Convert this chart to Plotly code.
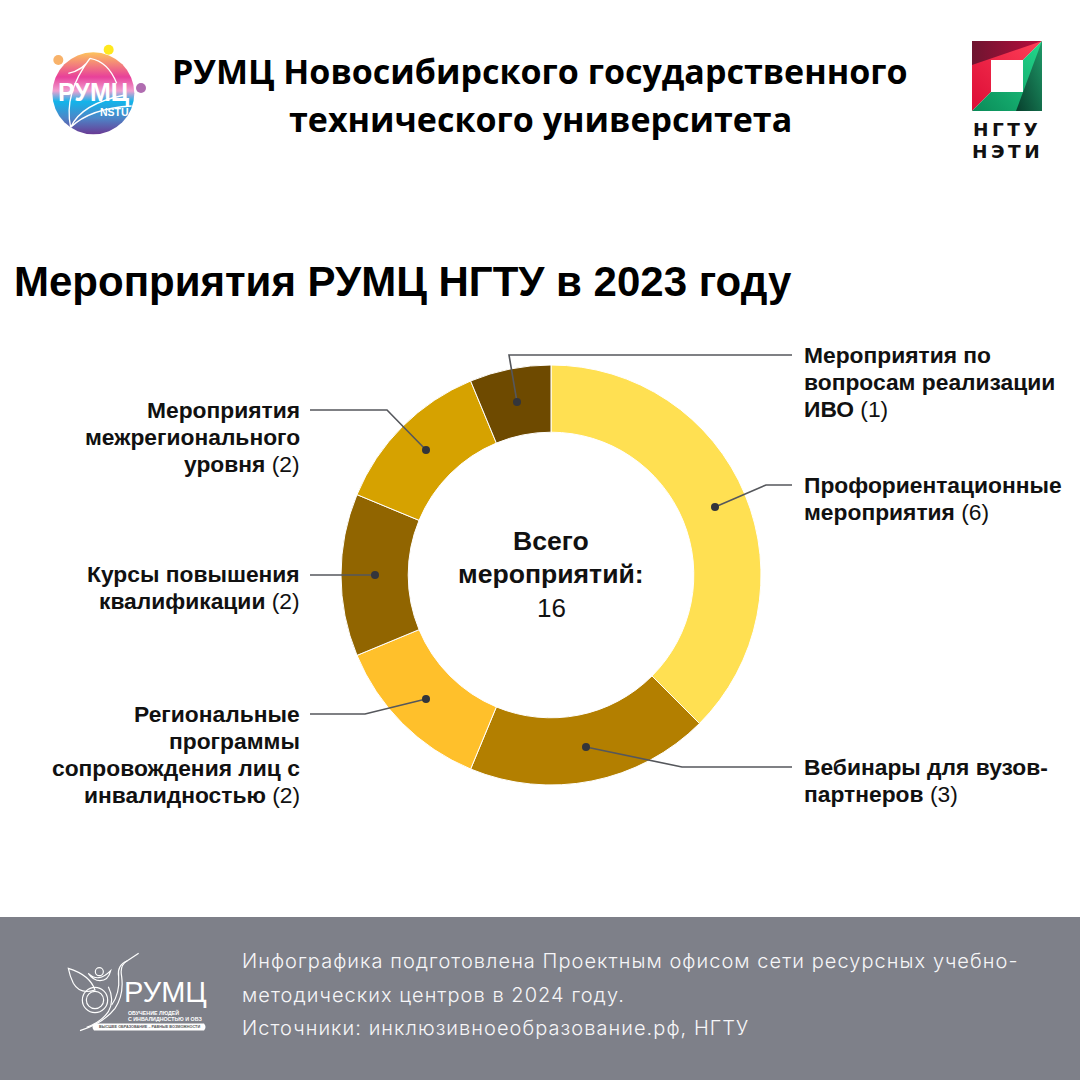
import base64
import plotly.graph_objects as go

categories = ["Профориентационные мероприятия", "Вебинары для вузов-партнеров",
              "Региональные программы сопровождения лиц с инвалидностью",
              "Курсы повышения квалификации", "Мероприятия межрегионального уровня",
              "Мероприятия по вопросам реализации ИВО"]
values = [6, 3, 2, 2, 2, 1]
colors = ["#FFE052", "#B37F00", "#FFC02B", "#916500", "#D6A200", "#6E4A00"]

W = 1080
def px(x): return x / W
def py(y): return 1 - y / W

def svg_uri(s):
    return "data:image/svg+xml;base64," + base64.b64encode(s.encode()).decode()

rumc_logo = '''<svg xmlns="http://www.w3.org/2000/svg" width="300" height="150" viewBox="0 0 900 450">
<defs><linearGradient id="g" x1="0" y1="0" x2="0" y2="1">
<stop offset="0" stop-color="#FDC35C"/><stop offset=".3" stop-color="#E8409A"/>
<stop offset=".47" stop-color="#F0A0D0"/><stop offset=".6" stop-color="#12B4EA"/>
<stop offset=".8" stop-color="#4C86C8"/><stop offset="1" stop-color="#6A3A94"/></linearGradient></defs>
<circle cx="280" cy="220" r="123" fill="url(#g)"/>
<circle cx="175" cy="120" r="15" fill="#F8B26A"/><circle cx="326" cy="89" r="15" fill="#FFE81E"/>
<circle cx="423" cy="204" r="15" fill="#B06CB0"/>
<path d="M212 322 Q190 220 270 115 Q250 150 205 160 M270 115 Q325 125 350 190 M212 322 Q245 250 375 225 M212 322 Q270 265 395 258" fill="none" stroke="#fff" stroke-width="4"/>
</svg>'''

ngtu_logo = '''<svg xmlns="http://www.w3.org/2000/svg" width="70" height="70" viewBox="0 0 70 70">
<defs><linearGradient id="a" x1="0" y1="1" x2="1" y2="0"><stop offset="0" stop-color="#DC0C36"/><stop offset="1" stop-color="#FF4058"/></linearGradient>
<linearGradient id="b" x1="0" y1="0" x2="1" y2="0"><stop offset="0" stop-color="#6E1530"/><stop offset="1" stop-color="#B80C3C"/></linearGradient>
<linearGradient id="c" x1="0" y1="1" x2="1" y2="0"><stop offset="0" stop-color="#0A8A58"/><stop offset="1" stop-color="#23D98C"/></linearGradient>
<linearGradient id="d" x1="0" y1="1" x2="1" y2="0"><stop offset="0" stop-color="#073F2D"/><stop offset="1" stop-color="#1F9A68"/></linearGradient></defs>
<polygon points="0,0 70,0 0,70" fill="url(#a)"/><polygon points="0,0 70,0 0,24" fill="url(#b)"/>
<polygon points="70,0 70,70 0,70" fill="url(#c)"/><polygon points="70,0 70,70 44,70" fill="url(#d)"/>
<rect x="19" y="19" width="32" height="32" fill="#fff"/></svg>'''

fund_logo = '''<svg xmlns="http://www.w3.org/2000/svg" width="200" height="110" viewBox="0 0 600 330">
<g fill="none" stroke="#fff" stroke-width="3.5">
<path d="M85 85 Q150 105 165 150 Q120 165 100 130 Q90 110 85 85Z"/>
<path d="M296 40 L262 62 Q238 75 245 110 Q252 165 225 205 Q190 250 120 272"/>
<path d="M262 62 Q230 75 236 110 Q240 160 215 195"/>
<path d="M205 140 Q225 180 205 215 Q185 245 140 262"/>
<circle cx="165" cy="180" r="38"/><circle cx="165" cy="180" r="26"/>
<circle cx="178" cy="95" r="12"/><path d="M145 100 Q175 130 212 92 Q205 122 180 122 Q160 122 145 100Z"/>
</g></svg>'''

fig = go.Figure(go.Pie(
    labels=categories, values=values, sort=False, direction="clockwise", rotation=0,
    hole=0.68, textinfo="none", showlegend=False,
    marker=dict(colors=colors, line=dict(color="#ffffff", width=1)),
    domain=dict(x=[px(341), px(761)], y=[py(785), py(365)]),
))

shapes = []
annots = []

def text(x, y, s, size, font, color="#000000", weight=None, anchor="left", align=None):
    dx = {"left": -2, "right": 2, "center": 0}[anchor]
    annots.append(dict(x=px(x + dx), y=py(y), xref="paper", yref="paper", text=s, showarrow=False,
                       xanchor=anchor, yanchor="middle", align=align or anchor,
                       font=dict(family=font, size=size, color=color, weight=weight)))

H = "Liberation Sans"
# header
text(540, 71, "РУМЦ Новосибирского государственного", 34, "Open Sans", weight=700, anchor="center")
text(540, 119, "технического университета", 34, "Open Sans", weight=700, anchor="center")
text(14, 281, "Мероприятия РУМЦ НГТУ в 2023 году", 42, H, weight=700)

# logos
images = [
    dict(source=svg_uri(rumc_logo), x=0, y=py(20), sizex=px(300), sizey=px(150), xref="paper", yref="paper",
         xanchor="left", yanchor="top", layer="above", sizing="stretch"),
    dict(source=svg_uri(ngtu_logo), x=px(972), y=py(41), sizex=px(70), sizey=px(70), xref="paper", yref="paper",
         xanchor="left", yanchor="top", layer="above", sizing="stretch"),
    dict(source=svg_uri(fund_logo), x=px(40), y=py(940), sizex=px(200), sizey=px(110), xref="paper", yref="paper",
         xanchor="left", yanchor="top", layer="above", sizing="stretch"),
]
text(94, 92, "РУМЦ", 25, H, "#ffffff", 700, "center")
text(114, 112, "NSTU", 10.5, H, "#ffffff", 700, "center")
text(1007, 129.5, "НГТУ", 18.5, "DejaVu Sans", "#111111", 700, "center")
text(1007, 151, "НЭТИ", 18.5, "DejaVu Sans", "#111111", 700, "center")

# centre
text(551, 541, "Всего", 26.6, H, "#111111", 700, "center")
text(551, 574, "мероприятий:", 26.6, H, "#111111", 700, "center")
text(551, 608, "16", 26, H, "#111111", 400, "center")

# labels, one line at a time
label_rows_right = [
    (355, "<b>Мероприятия по</b>"), (382, "<b>вопросам реализации</b>"), (409, "<b>ИВО</b> (1)"),
    (485, "<b>Профориентационные</b>"), (512, "<b>мероприятия</b> (6)"),
    (767, "<b>Вебинары для вузов-</b>"), (794, "<b>партнеров</b> (3)"),
]
label_rows_left = [
    (410, "<b>Мероприятия</b>"), (437, "<b>межрегионального</b>"), (464, "<b>уровня</b> (2)"),
    (574, "<b>Курсы повышения</b>"), (601, "<b>квалификации</b> (2)"),
    (714, "<b>Региональные</b>"), (741, "<b>программы</b>"), (768, "<b>сопровождения лиц с</b>"),
    (795, "<b>инвалидностью</b> (2)"),
]
for y, s in label_rows_right:
    text(804, y, s, 22.8, H, "#111111", None, "left")
for y, s in label_rows_left:
    text(300, y, s, 22.8, H, "#111111", None, "right")

# leader lines
leaders = [
    [(517, 402), (509, 355), (792, 355)],
    [(715, 507), (766, 485), (792, 485)],
    [(586, 747), (682, 767), (792, 767)],
    [(426, 450), (387, 410), (310, 410)],
    [(375, 575), (310, 575)],
    [(426, 699), (365, 714), (310, 714)],
]
for pts in leaders:
    d = "M " + " L ".join(f"{px(a)} {py(b)}" for a, b in pts)
    shapes.append(dict(type="path", path=d, xref="paper", yref="paper", layer="above",
                       line=dict(color="#55575c", width=1.6), fillcolor="rgba(0,0,0,0)"))
    a, b = pts[0]
    shapes.append(dict(type="circle", xref="paper", yref="paper", layer="above",
                       x0=px(a - 4), x1=px(a + 4), y0=py(b + 4), y1=py(b - 4),
                       fillcolor="#33353b", line=dict(width=0)))

# footer band
shapes.insert(0, dict(type="rect", xref="paper", yref="paper", x0=0, x1=1, y0=0, y1=py(917),
                      fillcolor="#7E8089", line=dict(width=0), layer="below"))
foot = "#F6F6F8"
F = "Inter"
text(242, 961, "Инфографика подготовлена Проектным офисом сети ресурсных учебно-", 20, F, foot, 300)
text(242, 995, "методических центров в 2024 году.", 20, F, foot, 300)
text(242, 1028, "Источники: инклюзивноеобразование.рф, НГТУ", 20, F, foot, 300)
text(165, 992, "РУМЦ", 29, H, "#ffffff", 400, "center")
text(128, 1012, "ОБУЧЕНИЕ ЛЮДЕЙ", 5.3, H, "#ffffff", 700, "left")
text(128, 1018.5, "С ИНВАЛИДНОСТЬЮ И ОВЗ", 5.3, H, "#ffffff", 700, "left")
shapes.append(dict(type="path", xref="paper", yref="paper", layer="above", fillcolor="#ffffff", line=dict(width=0),
                   path=f"M {px(94)} {py(1023.5)} L {px(204)} {py(1023.5)} Q {px(207)} {py(1027)} {px(204)} {py(1030.5)} L {px(94)} {py(1030.5)} Q {px(91)} {py(1027)} {px(94)} {py(1023.5)} Z"))
text(149, 1027, "ВЫСШЕЕ ОБРАЗОВАНИЕ – РАВНЫЕ ВОЗМОЖНОСТИ", 3.8, H, "#555555", 700, "center")

fig.update_layout(width=1080, height=1080, margin=dict(l=0, r=0, t=0, b=0),
                  paper_bgcolor="#ffffff", plot_bgcolor="#ffffff",
                  shapes=shapes, annotations=annots, images=images)
post = """
document.body.style.margin='0';
document.querySelectorAll('.annotation-text').forEach(function(t){
  var s=t.textContent;
  if(s.indexOf('Инфографика')==0||s.indexOf('методических')==0||s.indexOf('Источники')==0){t.style.letterSpacing='1.05px';}
  if(s=='НГТУ'||s=='НЭТИ'){t.style.letterSpacing='3.5px';}
});
"""
fig.write_html("out.html", post_script=post, config=dict(displayModeBar=False))
